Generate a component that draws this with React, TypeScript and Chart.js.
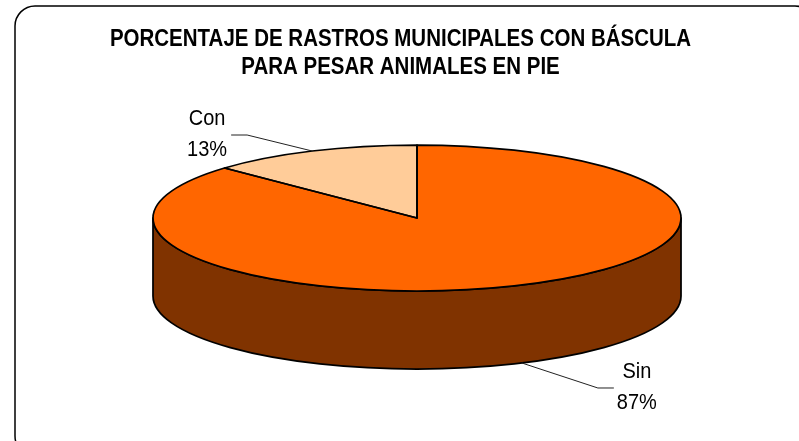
import { useEffect, useRef } from 'react';
import { Chart, registerables } from 'chart.js';
Chart.register(...registerables);

const categories = ['Sin', 'Con'];
const values = [87, 13];
const titleLines = ['PORCENTAJE DE RASTROS MUNICIPALES CON BÁSCULA', 'PARA PESAR ANIMALES EN PIE'];
const topColors = ['#FF6600', '#FFCC99'];
const sideColors = ['#803300', '#B38F6B'];

const W = 799;
const H = 441;
const DEPTH = 78;
const LABEL_OFFSETS = [
  { dx: 76, dy: 25 },
  { dx: -65, dy: -16 },
];
const TAIL = 16;
const TEXT_SY = 1.14;
const FONT = '"Liberation Sans", Arial, sans-serif';

function geom(chart: any) {
  const meta = chart.getDatasetMeta(0);
  const arcs = meta.data as any[];
  if (!arcs.length) return null;
  const area = chart.chartArea;
  const a0 = arcs[0];
  const cx = a0.x;
  const cy = a0.y;
  const R = a0.outerRadius;
  const RX = (R * area.width) / area.height;
  const RY = R;
  return { arcs, cx, cy, R, RX, RY };
}

function tallText(ctx: CanvasRenderingContext2D, t: string, x: number, y: number) {
  ctx.save();
  ctx.translate(x, y);
  ctx.scale(1, TEXT_SY);
  ctx.fillText(t, 0, 0);
  ctx.restore();
}

const pie3d = {
  id: 'pie3d',
  beforeDraw(chart: any) {
    const ctx = chart.ctx as CanvasRenderingContext2D;
    ctx.save();
    ctx.fillStyle = '#ffffff';
    ctx.fillRect(0, 0, W, H);
    const x = 15, y = 6, w = 800, h = 450, r = 20;
    ctx.beginPath();
    ctx.moveTo(x + r, y);
    ctx.lineTo(x + w - r, y);
    ctx.arcTo(x + w, y, x + w, y + r, r);
    ctx.lineTo(x + w, y + h - r);
    ctx.arcTo(x + w, y + h, x + w - r, y + h, r);
    ctx.lineTo(x + r, y + h);
    ctx.arcTo(x, y + h, x, y + h - r, r);
    ctx.lineTo(x, y + r);
    ctx.arcTo(x, y, x + r, y, r);
    ctx.closePath();
    ctx.lineWidth = 1.5;
    ctx.strokeStyle = '#000000';
    ctx.stroke();
    ctx.fillStyle = '#000000';
    ctx.font = 'bold 20.5px ' + FONT;
    ctx.textAlign = 'center';
    ctx.textBaseline = 'middle';
    titleLines.forEach((t, i) => tallText(ctx, t, W / 2 + 1, 40 + i * 28));
    ctx.restore();
  },
  beforeDatasetsDraw(chart: any) {
    const g = geom(chart);
    if (!g) return false;
    const { arcs, cx, cy, R, RX, RY } = g;
    const ctx = chart.ctx as CanvasRenderingContext2D;
    ctx.save();
    ctx.lineJoin = 'round';
    ctx.lineWidth = 1.75;
    ctx.strokeStyle = '#000000';
    arcs.forEach((arc, i) => {
      const s = arc.startAngle;
      const e = arc.endAngle;
      for (let k = -1; k <= 2; k++) {
        const lo = Math.max(s, 2 * Math.PI * k);
        const hi = Math.min(e, Math.PI + 2 * Math.PI * k);
        if (hi - lo <= 1e-4) continue;
        ctx.beginPath();
        ctx.ellipse(cx, cy, RX, RY, 0, lo, hi, false);
        ctx.lineTo(cx + RX * Math.cos(hi), cy + RY * Math.sin(hi) + DEPTH);
        ctx.ellipse(cx, cy + DEPTH, RX, RY, 0, hi, lo, true);
        ctx.closePath();
        ctx.fillStyle = sideColors[i % sideColors.length];
        ctx.fill();
        ctx.stroke();
      }
    });
    arcs.forEach((arc) => {
      ctx.save();
      ctx.translate(cx, cy);
      ctx.scale(RX / R, RY / R);
      ctx.translate(-cx, -cy);
      arc.draw(ctx);
      ctx.restore();
    });
    arcs.forEach((arc) => {
      ctx.beginPath();
      ctx.moveTo(cx, cy);
      ctx.ellipse(cx, cy, RX, RY, 0, arc.startAngle, arc.endAngle, false);
      ctx.closePath();
      ctx.stroke();
    });
    ctx.restore();
    return false;
  },
  afterDraw(chart: any) {
    const g = geom(chart);
    if (!g) return;
    const { arcs, cx, cy, RX, RY } = g;
    const ctx = chart.ctx as CanvasRenderingContext2D;
    const total = values.reduce((a, b) => a + b, 0);
    ctx.save();
    ctx.font = '20px ' + FONT;
    ctx.textBaseline = 'middle';
    ctx.textAlign = 'center';
    arcs.forEach((arc, i) => {
      const mid = (arc.startAngle + arc.endAngle) / 2;
      const c = Math.cos(mid);
      const sn = Math.sin(mid);
      const ex = cx + RX * c;
      const ey = cy + RY * sn + (sn > 0 ? DEPTH : 0);
      const off = LABEL_OFFSETS[i];
      const bx = ex + off.dx;
      const by = ey + off.dy;
      const dir = off.dx >= 0 ? 1 : -1;
      const tx = bx + dir * TAIL;
      ctx.beginPath();
      ctx.moveTo(ex, ey);
      ctx.lineTo(bx, by);
      ctx.lineTo(tx, by);
      ctx.lineWidth = 1;
      ctx.strokeStyle = '#222222';
      ctx.stroke();
      const l1 = categories[i];
      const l2 = Math.round((values[i] / total) * 100) + '%';
      const mw = Math.max(ctx.measureText(l1).width, ctx.measureText(l2).width);
      const centerX = dir > 0 ? tx + 3 + mw / 2 : tx - 4 - mw / 2;
      ctx.fillStyle = '#000000';
      tallText(ctx, l1, centerX, by - 16);
      tallText(ctx, l2, centerX, by + 15);
    });
    ctx.restore();
  },
};

export default function App() {
  const ref = useRef<HTMLCanvasElement | null>(null);
  useEffect(() => {
    if (!ref.current) return;
    const chart = new Chart(ref.current, {
      type: 'pie',
      data: {
        labels: categories,
        datasets: [
          {
            data: values,
            backgroundColor: topColors,
            borderWidth: 0,
          },
        ],
      },
      options: {
        responsive: false,
        animation: false,
        devicePixelRatio: 1,
        layout: { padding: { left: 153, right: 118, top: 145, bottom: 150 } },
        plugins: {
          legend: { display: false },
          title: { display: false },
          tooltip: { enabled: false },
        },
        events: [],
      },
      plugins: [pie3d],
    });
    return () => chart.destroy();
  }, []);
  return (
    <canvas
      ref={ref}
      width={W}
      height={H}
      style={{ position: 'fixed', left: 0, top: 0, width: W, height: H, display: 'block' }}
    />
  );
}
